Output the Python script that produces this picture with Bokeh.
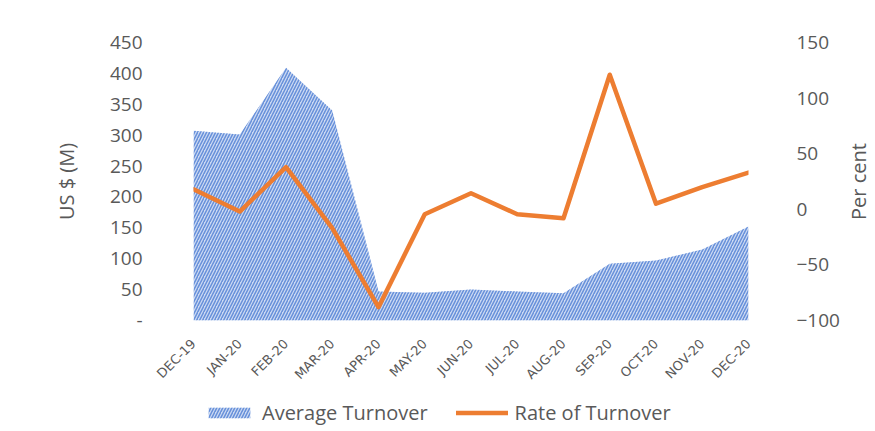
import math
from bokeh.plotting import figure
from bokeh.layouts import column, row
from bokeh.models import (Range1d, LinearAxis, FixedTicker, ColumnDataSource,
                          Legend, LegendItem)
from bokeh.embed import file_html
from bokeh.resources import INLINE

months = ["DEC-19", "JAN-20", "FEB-20", "MAR-20", "APR-20", "MAY-20", "JUN-20",
          "JUL-20", "AUG-20", "SEP-20", "OCT-20", "NOV-20", "DEC-20"]
avg_turnover = [307, 301, 409, 340, 47, 45, 50, 47, 44, 92, 97, 115, 152]
rate_turnover = [18, -2, 38, -17, -88, -4.5, 14.5, -4.5, -8, 121, 5, 20, 33]
left_ticks = [0, 50, 100, 150, 200, 250, 300, 350, 400, 450]
right_ticks = [-100, -50, 0, 50, 100, 150]
series_names = ["Average Turnover", "Rate of Turnover"]

x = list(range(len(months)))
src = ColumnDataSource(dict(x=x, avg=avg_turnover, rate=rate_turnover))

FONT = "Open Sans"
GRAY = "#595959"
AREA_STYLE = dict(fill_color="#ccd9f2", hatch_pattern="/", hatch_color="#6690da",
                  hatch_scale=6, hatch_weight=1.5)
LINE_STYLE = dict(line_color="#ED7D31", line_width=4.5, line_join="round",
                  line_cap="round")

W = 872
PW = 842      # main figure width
TOP, BOTTOM = 42, 78
MAIN_H = 398

p = figure(width=PW, height=MAIN_H, output_backend="svg", toolbar_location=None,
           x_range=Range1d(0, 12), y_range=Range1d(0, 450),
           min_border_left=193, min_border_right=PW - 750, min_border_top=TOP,
           min_border_bottom=BOTTOM)
p.extra_y_ranges = {"pct": Range1d(-100, 150)}
p.outline_line_color = None
p.xgrid.visible = False
p.ygrid.visible = False

area = p.varea(x="x", y1=0, y2="avg", source=src, **AREA_STYLE)
line = p.line(x="x", y="rate", source=src, y_range_name="pct", **LINE_STYLE)

# x axis
xa = p.xaxis[0]
xa.ticker = FixedTicker(ticks=x)
xa.major_label_overrides = {i: m for i, m in enumerate(months)}
xa.major_label_orientation = math.pi / 4
xa.major_label_text_font = "DejaVu Sans"
xa.major_label_text_font_size = "13px"
xa.major_label_text_color = GRAY
xa.major_label_standoff = 15
xa.axis_line_color = None
xa.major_tick_line_color = None
xa.minor_tick_line_color = None

# left axis
ya = p.yaxis[0]
ya.ticker = FixedTicker(ticks=left_ticks)
ya.major_label_overrides = {0: "-"}
ya.major_label_text_font = FONT
ya.major_label_text_font_size = "19px"
ya.major_label_text_color = GRAY
ya.major_label_standoff = 45
ya.axis_label = "US $ (M)"
ya.axis_label_text_font = FONT
ya.axis_label_text_font_size = "20px"
ya.axis_label_text_font_style = "normal"
ya.axis_label_text_color = GRAY
ya.axis_label_standoff = 27
ya.axis_line_color = None
ya.major_tick_line_color = None
ya.minor_tick_line_color = None

# right axis (tick labels)
ra = LinearAxis(y_range_name="pct", ticker=FixedTicker(ticks=right_ticks))
ra.major_label_text_font = FONT
ra.major_label_text_font_size = "19px"
ra.major_label_text_color = GRAY
ra.major_label_standoff = 42
ra.axis_line_color = None
ra.major_tick_line_color = None
ra.minor_tick_line_color = None
p.add_layout(ra, "right")

# narrow strip on the right carrying the "Per cent" title (reads bottom-to-top)
pr = figure(width=W - PW, height=MAIN_H, output_backend="svg",
            toolbar_location=None, x_range=Range1d(0, 1),
            y_range=Range1d(-100, 150), min_border_left=W - PW - 2,
            min_border_right=1, min_border_top=TOP, min_border_bottom=BOTTOM)
pr.xaxis.visible = False
pr.xgrid.visible = False
pr.ygrid.visible = False
pr.outline_line_color = None
pa = pr.yaxis[0]
pa.ticker = FixedTicker(ticks=[])
pa.axis_label = "Per cent"
pa.axis_label_text_font = FONT
pa.axis_label_text_font_size = "20px"
pa.axis_label_text_font_style = "normal"
pa.axis_label_text_color = GRAY
pa.axis_label_standoff = 0
pa.major_label_standoff = 0
pa.major_tick_out = 0
pa.major_tick_in = 0
pa.axis_line_color = None
pa.major_tick_line_color = None
pa.minor_tick_line_color = None

# legend strip below the chart
lg = figure(width=W, height=30, output_backend="svg", toolbar_location=None,
            x_range=Range1d(100, 101), y_range=Range1d(0, 1),
            min_border_left=193, min_border_right=W - 750,
            min_border_top=0, min_border_bottom=0)
lg.axis.visible = False
lg.xgrid.visible = False
lg.ygrid.visible = False
lg.outline_line_color = None
la = lg.varea(x="x", y1=0, y2="avg", source=src, **AREA_STYLE)
ll = lg.line(x="x", y="rate", source=src, **LINE_STYLE)
legend = Legend(items=[LegendItem(label=series_names[0], renderers=[la]),
                       LegendItem(label=series_names[1], renderers=[ll])],
                orientation="horizontal", location=(10, 2),
                glyph_width=52, glyph_height=13, label_standoff=7, spacing=28,
                padding=0, margin=0, border_line_alpha=0,
                background_fill_alpha=0, label_text_font=FONT,
                label_text_font_size="20px", label_text_color=GRAY)
lg.add_layout(legend, "center")

layout = column(row(p, pr, spacing=0), lg, spacing=0)
open("out.html", "w").write(file_html(layout, INLINE))
